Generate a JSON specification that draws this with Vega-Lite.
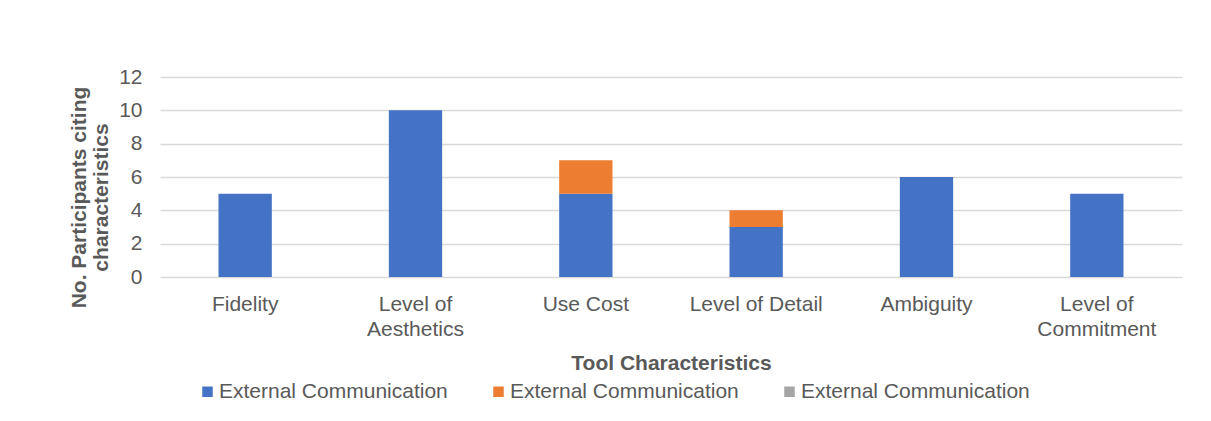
{
  "$schema": "https://vega.github.io/schema/vega-lite/v6.json",
  "width": 1022,
  "height": 200,
  "autosize": "none",
  "padding": {"left": 160, "top": 77, "right": 29, "bottom": 144},
  "background": "white",
  "config": {
    "font": "Liberation Sans",
    "view": {"stroke": null},
    "axis": {"labelColor": "#595959", "titleColor": "#595959", "labelFont": "Liberation Sans", "titleFont": "Liberation Sans"},
    "legend": {"labelColor": "#595959", "labelFont": "Liberation Sans"}
  },
  "data": {
    "values": [
      {"characteristic": "Fidelity", "series": "External Communication 1", "count": 5},
      {"characteristic": "Fidelity", "series": "External Communication 2", "count": 0},
      {"characteristic": "Fidelity", "series": "External Communication 3", "count": 0},
      {"characteristic": "Level of Aesthetics", "series": "External Communication 1", "count": 10},
      {"characteristic": "Level of Aesthetics", "series": "External Communication 2", "count": 0},
      {"characteristic": "Level of Aesthetics", "series": "External Communication 3", "count": 0},
      {"characteristic": "Use Cost", "series": "External Communication 1", "count": 5},
      {"characteristic": "Use Cost", "series": "External Communication 2", "count": 2},
      {"characteristic": "Use Cost", "series": "External Communication 3", "count": 0},
      {"characteristic": "Level of Detail", "series": "External Communication 1", "count": 3},
      {"characteristic": "Level of Detail", "series": "External Communication 2", "count": 1},
      {"characteristic": "Level of Detail", "series": "External Communication 3", "count": 0},
      {"characteristic": "Ambiguity", "series": "External Communication 1", "count": 6},
      {"characteristic": "Ambiguity", "series": "External Communication 2", "count": 0},
      {"characteristic": "Ambiguity", "series": "External Communication 3", "count": 0},
      {"characteristic": "Level of Commitment", "series": "External Communication 1", "count": 5},
      {"characteristic": "Level of Commitment", "series": "External Communication 2", "count": 0},
      {"characteristic": "Level of Commitment", "series": "External Communication 3", "count": 0}
    ]
  },
  "mark": {"type": "bar"},
  "encoding": {
    "x": {
      "field": "characteristic",
      "type": "nominal",
      "sort": null,
      "scale": {"paddingInner": 0.687, "paddingOuter": 0.3435},
      "axis": {
        "title": "Tool Characteristics",
        "titleFontSize": 21,
        "titleFontWeight": "bold",
        "titleY": 92,
        "titleBaseline": "alphabetic",
        "labelAngle": 0,
        "labelFontSize": 21,
        "labelPadding": 16,
        "labelLineHeight": 25,
        "labelBaseline": "top",
        "ticks": false,
        "tickSize": 0,
        "domain": false,
        "labelExpr": "datum.value == 'Level of Aesthetics' ? ['Level of', 'Aesthetics'] : datum.value == 'Level of Commitment' ? ['Level of', 'Commitment'] : datum.label"
      }
    },
    "y": {
      "field": "count",
      "type": "quantitative",
      "stack": "zero",
      "scale": {"domain": [0, 12], "nice": false},
      "axis": {
        "title": ["No. Participants citing", "characteristics"],
        "titleFontSize": 21,
        "titleFontWeight": "bold",
        "titleAngle": -90,
        "titleAlign": "center",
        "titleBaseline": "alphabetic",
        "titleLineHeight": 22,
        "titleX": -75,
        "titleY": 120,
        "values": [0, 2, 4, 6, 8, 10, 12],
        "labelFontSize": 21,
        "labelPadding": 18,
        "ticks": false,
        "tickSize": 0,
        "domain": false,
        "grid": true,
        "gridColor": "#D9D9D9",
        "gridWidth": 1.5
      }
    },
    "order": {"field": "series", "sort": "ascending"},
    "color": {
      "field": "series",
      "type": "nominal",
      "scale": {
        "domain": ["External Communication 1", "External Communication 2", "External Communication 3"],
        "range": ["#4472C4", "#ED7D31", "#A5A5A5"]
      },
      "legend": {
        "title": null,
        "orient": "none",
        "direction": "horizontal",
        "legendX": 37,
        "legendY": 304,
        "padding": 0,
        "symbolType": "square",
        "symbolSize": 110,
        "symbolStrokeWidth": 0,
        "labelFontSize": 21,
        "labelOffset": 1,
        "columnPadding": 40,
        "labelLimit": 400,
        "labelExpr": "'External Communication'"
      }
    }
  }
}
